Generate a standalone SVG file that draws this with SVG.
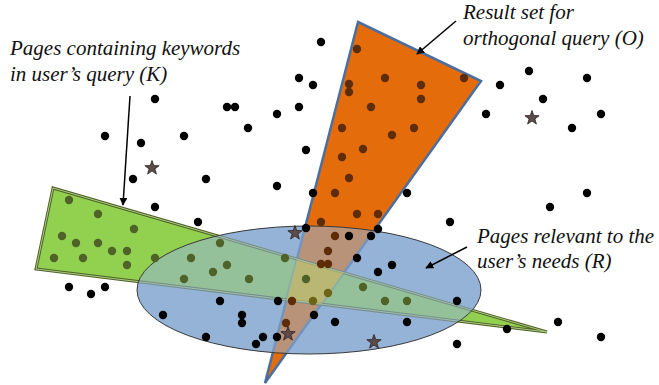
<svg xmlns="http://www.w3.org/2000/svg" xmlns:xlink="http://www.w3.org/1999/xlink" width="659" height="385" viewBox="0 0 659 385">
<style>
.lbl{font-family:"Liberation Serif","Times New Roman",serif;font-style:italic;font-size:21px;fill:#111}
.k{fill:#000}
.o{fill:#5e2c06}
.g{fill:#4f6228}
.og{fill:#6e6418}
.arrow{stroke:#000;stroke-width:1.5;fill:none}
.star{fill:#5d4c4c;stroke:#2a2020;stroke-width:0.8}
</style>
<defs>
<marker id="ah" viewBox="0 0 10 10" refX="9" refY="5" markerWidth="8" markerHeight="8" markerUnits="userSpaceOnUse" orient="auto">
<path d="M0,0 L10,5 L0,10 z" fill="#000"/>
</marker>
<path id="st" d="M0,-7.5 L1.76,-2.43 L7.13,-2.32 L2.85,0.93 L4.41,6.07 L0,3 L-4.41,6.07 L-2.85,0.93 L-7.13,-2.32 L-1.76,-2.43 Z"/>
<clipPath id="gclip"><polygon points="53,188 36,269 547,332"/></clipPath>
</defs>
<rect width="659" height="385" fill="#fff"/>

<g id="R-base"><ellipse cx="309" cy="290" rx="172" ry="64" fill="#95b3d7"/></g>
<g id="K-base"><polygon points="53,188 36,269 547,332" fill="#92d050"/></g>
<g id="O"><polygon points="358,22 481,81 265,383" fill="#e46c0a" stroke="#4a6fa0" stroke-width="2.5" stroke-linejoin="miter"/></g>
<g id="K">
<polygon points="53,188 36,269 547,332" fill="#92d050" fill-opacity="0.5" stroke="#4f6228" stroke-width="3" stroke-linejoin="miter"/>
<polygon points="53,188 36,269 547,332" fill="none" stroke="#b5d68a" stroke-width="0.9"/>
</g>
<g id="R"><ellipse cx="309" cy="290" rx="172" ry="64" fill="#95b3d7" fill-opacity="0.55" stroke="#3a3a3a" stroke-width="1"/></g>
<g id="OK-overlap"><polygon points="358,22 481,81 265,383" clip-path="url(#gclip)" fill="#d2c85a" fill-opacity="0.45"/></g>

<g id="pages">
<circle class="k" cx="321" cy="42" r="4.2"/><circle class="k" cx="299" cy="78" r="4.2"/><circle class="k" cx="313" cy="85" r="4.2"/><circle class="k" cx="155" cy="99" r="4.2"/>
<circle class="k" cx="227" cy="107" r="4.2"/><circle class="k" cx="235" cy="107" r="4.2"/><circle class="k" cx="277" cy="114" r="4.2"/><circle class="k" cx="299" cy="107" r="4.2"/>
<circle class="k" cx="248" cy="128" r="4.2"/><circle class="k" cx="105" cy="136" r="4.2"/><circle class="k" cx="141" cy="143" r="4.2"/><circle class="k" cx="184" cy="136" r="4.2"/>
<circle class="k" cx="306" cy="150" r="4.2"/><circle class="k" cx="133" cy="179" r="4.2"/><circle class="k" cx="206" cy="179" r="4.2"/><circle class="k" cx="277" cy="186" r="4.2"/>
<circle class="k" cx="313" cy="193" r="4.2"/><circle class="k" cx="155" cy="207" r="4.2"/><circle class="k" cx="198" cy="222" r="4.2"/><circle class="k" cx="69" cy="287" r="4.2"/>
<circle class="k" cx="91" cy="294" r="4.2"/><circle class="k" cx="105" cy="287" r="4.2"/><circle class="k" cx="529" cy="71" r="4.2"/><circle class="k" cx="500" cy="85" r="4.2"/>
<circle class="k" cx="587" cy="78" r="4.2"/><circle class="k" cx="543" cy="99" r="4.2"/><circle class="k" cx="486" cy="114" r="4.2"/><circle class="k" cx="601" cy="114" r="4.2"/>
<circle class="k" cx="572" cy="128" r="4.2"/><circle class="k" cx="407" cy="193" r="4.2"/><circle class="k" cx="587" cy="193" r="4.2"/><circle class="k" cx="550" cy="207" r="4.2"/>
<circle class="k" cx="450" cy="222" r="4.2"/><circle class="k" cx="507" cy="329" r="4.2"/><circle class="k" cx="558" cy="322" r="4.2"/><circle class="k" cx="601" cy="337" r="4.2"/>
<circle class="k" cx="457" cy="344" r="4.2"/><circle class="k" cx="163" cy="315" r="4.2"/><circle class="k" cx="220" cy="301" r="4.2"/><circle class="k" cx="242" cy="315" r="4.2"/>
<circle class="k" cx="242" cy="323" r="4.2"/><circle class="k" cx="206" cy="337" r="4.2"/><circle class="k" cx="263" cy="337" r="4.2"/><circle class="k" cx="256" cy="344" r="4.2"/>
<circle class="k" cx="277" cy="337" r="4.2"/><circle class="k" cx="278" cy="301" r="4.2"/><circle class="k" cx="306" cy="228" r="4.2"/><circle class="k" cx="349" cy="236" r="4.2"/>
<circle class="k" cx="371" cy="236" r="4.2"/><circle class="k" cx="378" cy="229" r="4.2"/><circle class="k" cx="357" cy="258" r="4.2"/><circle class="k" cx="378" cy="272" r="4.2"/>
<circle class="k" cx="392" cy="265" r="4.2"/><circle class="k" cx="457" cy="301" r="4.2"/><circle class="k" cx="335" cy="322" r="4.2"/><circle class="k" cx="407" cy="322" r="4.2"/>
<circle class="k" cx="314" cy="315" r="4.2"/>

<circle class="o" cx="357" cy="49" r="4.2"/><circle class="o" cx="349" cy="84" r="4.2"/><circle class="o" cx="349" cy="92" r="4.2"/><circle class="o" cx="385" cy="78" r="4.2"/>
<circle class="o" cx="421" cy="85" r="4.2"/><circle class="o" cx="421" cy="99" r="4.2"/><circle class="o" cx="464" cy="78" r="4.2"/><circle class="o" cx="371" cy="107" r="4.2"/>
<circle class="o" cx="342" cy="128" r="4.2"/><circle class="o" cx="414" cy="128" r="4.2"/><circle class="o" cx="392" cy="135" r="4.2"/><circle class="o" cx="363" cy="149" r="4.2"/>
<circle class="o" cx="342" cy="157" r="4.2"/><circle class="o" cx="349" cy="178" r="4.2"/><circle class="o" cx="335" cy="193" r="4.2"/><circle class="o" cx="357" cy="214" r="4.2"/>
<circle class="o" cx="378" cy="214" r="4.2"/><circle class="o" cx="321" cy="222" r="4.2"/><circle class="o" cx="335" cy="236" r="4.2"/><circle class="o" cx="328" cy="251" r="4.2"/>
<circle class="o" cx="321" cy="264" r="4.2"/><circle class="o" cx="328" cy="264" r="4.2"/><circle class="o" cx="292" cy="301" r="4.2"/><circle class="o" cx="286" cy="323" r="4.2"/>

<circle class="g" cx="69" cy="200" r="4.2"/><circle class="g" cx="98" cy="214" r="4.2"/><circle class="g" cx="134" cy="229" r="4.2"/><circle class="g" cx="62" cy="236" r="4.2"/>
<circle class="g" cx="76" cy="243" r="4.2"/><circle class="g" cx="98" cy="243" r="4.2"/><circle class="g" cx="112" cy="251" r="4.2"/><circle class="g" cx="127" cy="251" r="4.2"/>
<circle class="g" cx="54" cy="258" r="4.2"/><circle class="g" cx="83" cy="258" r="4.2"/><circle class="g" cx="127" cy="265" r="4.2"/><circle class="g" cx="155" cy="258" r="4.2"/>
<circle class="g" cx="191" cy="258" r="4.2"/><circle class="g" cx="220" cy="243" r="4.2"/><circle class="g" cx="227" cy="265" r="4.2"/><circle class="g" cx="213" cy="272" r="4.2"/>
<circle class="g" cx="184" cy="279" r="4.2"/><circle class="g" cx="249" cy="279" r="4.2"/><circle class="g" cx="285" cy="258" r="4.2"/><circle class="g" cx="306" cy="279" r="4.2"/>
<circle class="g" cx="363" cy="287" r="4.2"/><circle class="g" cx="385" cy="301" r="4.2"/><circle class="g" cx="407" cy="301" r="4.2"/>

<circle class="og" cx="328" cy="293" r="4.2"/><circle class="og" cx="313" cy="301" r="4.2"/>

<use xlink:href="#st" href="#st" class="star" x="152" y="168"/>
<use xlink:href="#st" href="#st" class="star" x="532" y="118"/>
<use xlink:href="#st" href="#st" class="star" x="295" y="233"/>
<use xlink:href="#st" href="#st" class="star" x="288" y="334"/>
<use xlink:href="#st" href="#st" class="star" x="374" y="342"/>
</g>

<g id="connectors">
<line class="arrow" x1="130" y1="96" x2="123" y2="205" marker-end="url(#ah)"/>
<line class="arrow" x1="456" y1="21" x2="417" y2="54" marker-end="url(#ah)"/>
<line class="arrow" x1="467" y1="247" x2="426" y2="268" marker-end="url(#ah)"/>
</g>

<g id="label-K">
<text class="lbl" x="10" y="55">Pages containing keywords</text>
<text class="lbl" x="10" y="81">in user’s query (K)</text>
</g>
<g id="label-O">
<text class="lbl" x="463" y="19">Result set for</text>
<text class="lbl" x="463" y="45">orthogonal query (O)</text>
</g>
<g id="label-R">
<text class="lbl" x="477" y="243">Pages relevant to the</text>
<text class="lbl" x="477" y="268">user’s needs (R)</text>
</g>
</svg>
